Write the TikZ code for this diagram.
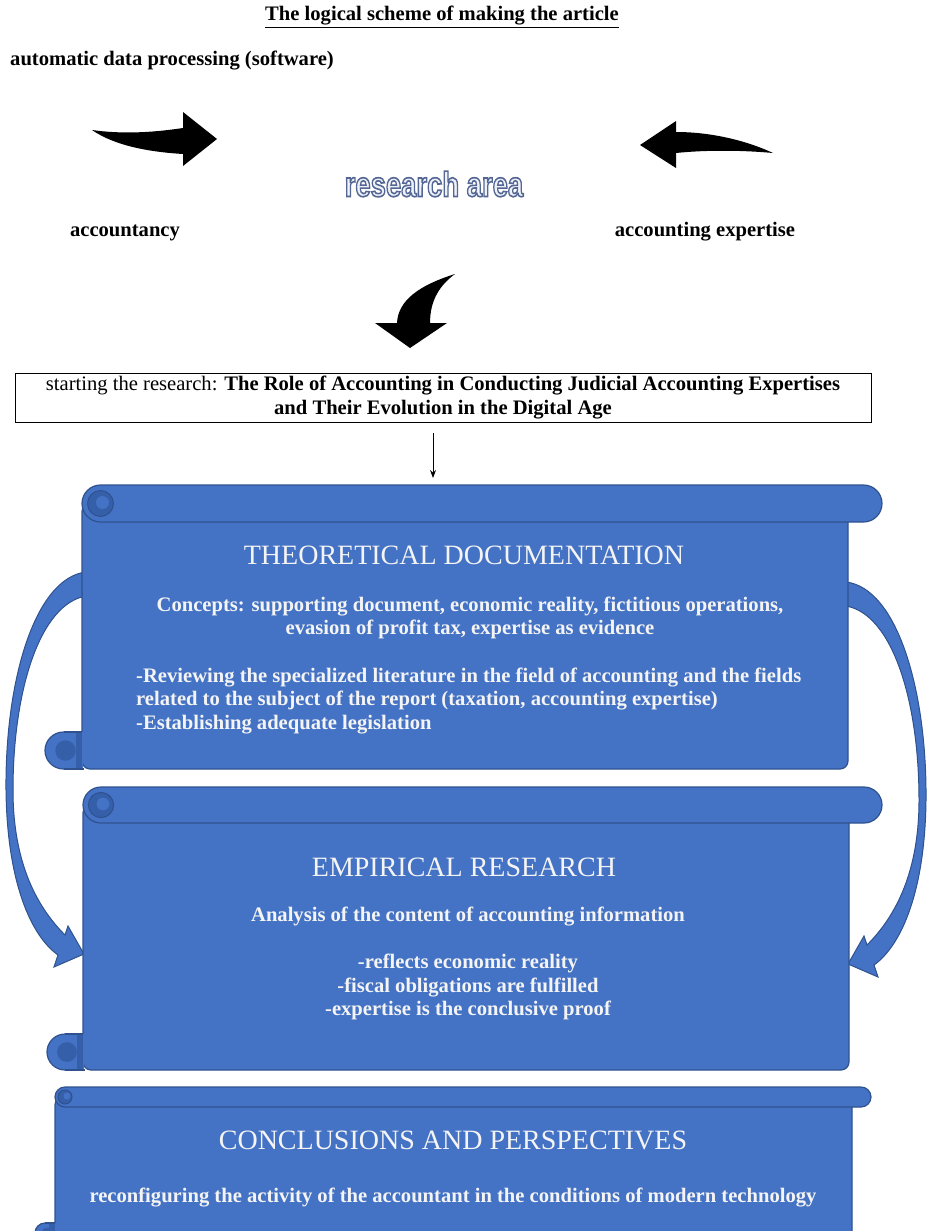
\documentclass[tikz,border=0pt]{standalone}
\usepackage{fontspec}
\setmainfont{Liberation Serif}
\newfontfamily\rafont{Liberation Sans}
\usetikzlibrary{arrows.meta}
\definecolor{sfill}{HTML}{4472C4}
\definecolor{sline}{HTML}{2F528F}
\definecolor{scurl}{HTML}{365FAA}
\definecolor{stext}{HTML}{F4F4F4}
\definecolor{raline}{HTML}{4A5A82}
\definecolor{rafill}{HTML}{EEF1F8}
\newcommand\outlinetxt[1]{\special{pdf:literal direct 2 Tr 1.3 w 0.33 0.40 0.58 RG}#1\special{pdf:literal direct 0 Tr}}
% #1 L, #2 R, #3 T, #4 roll height, #5 B, #6 roll right end, #7 half roll height (pt)
\newcommand\drawscroll[7]{%
  \filldraw[sbody, rounded corners=8pt] (#1,#3+#4/2) -- (#1,#5) -- (#2,#5) -- (#2,#3+#4/2) -- cycle;
  \filldraw[sbody] (#1-#4/2,#5-#4/2) circle[radius=#7];
  \fill[sfill] (#1-#4/2,#5-#4) rectangle (#1+1,#5-0.5);
  \fill[scurl] (#1-6,#5-#4) rectangle (#1,#5);
  \draw[sline, line width=1.2pt] (#1-#4/2,#5-#4) -- (#1,#5-#4) (#1-#4/2,#5) -- (#1+2,#5);
  \fill[scurl] (#1-#4/2+2,#5-#4/2) circle[radius=#7*0.55];
  \filldraw[sbody, rounded corners=#7] (#1,#3) rectangle (#6,#3+#4);
  \filldraw[fill=scurl, draw=sline, line width=1pt] (#1+#4/2,#3+#4/2) circle[radius=#7*0.7];
  \fill[sfill] (#1+#4/2+2,#3+#4/2-1) circle[radius=#7*0.35];
}
\tikzset{
  sbody/.style={fill=sfill, draw=sline, line width=1.2pt},
  sidearrow/.style={fill=sfill, draw=sline, line width=1pt},
  blk/.style={fill=black},
  plain/.style={inner sep=0pt, text=black},
  hdr/.style={plain, font=\bfseries\fontsize{20.6}{23}\selectfont},
  stitle/.style={inner sep=0pt, text=stext, font=\fontsize{28}{31}\selectfont},
  sbodytxt/.style={inner sep=0pt, text=stext, font=\bfseries\fontsize{20.6}{23.5}\selectfont},
}
\begin{document}
\begin{tikzpicture}[x=1pt, y=-1pt]
\useasboundingbox (0,0) rectangle (927,1231);
\begin{scope}
\clip (0,0) rectangle (927,1231);

% header texts
\node[hdr] (title) at (442,17) {\underline{The logical scheme of making the article}};
\node[hdr, anchor=west] (adp) at (10,61) {automatic data processing (software)};
\node[hdr] (acc) at (125,233) {accountancy};
\node[hdr] (exp) at (705,232) {accounting expertise};
\node[plain, text=rafill, font=\rafont\bfseries\fontsize{28}{30}\selectfont] (ra) at (434,184) {\scalebox{0.98}[1.25]{\outlinetxt{research area}}};

% black block arrows
\fill[blk] (92,130) .. controls (120,134) and (150,133) .. (183,128) -- (183,112) -- (217,139) -- (183,166) -- (183,154) .. controls (150,152) and (115,146) .. (92,130) -- cycle;
\fill[blk] (773,153) .. controls (745,140) and (710,132) .. (676,132) -- (676,121) -- (640,145) -- (676,168) -- (676,153) .. controls (705,150) and (740,150) .. (773,153) -- cycle;
\fill[blk] (455,274) .. controls (420,285) and (398,300) .. (397,323) -- (375,323) -- (410,348) -- (447,323) -- (430,323) .. controls (430,300) and (440,285) .. (455,274) -- cycle;

% start box
\node[draw=black, line width=1pt, minimum width=856pt, minimum height=49pt, inner sep=0pt, align=center, font=\fontsize{20.6}{23.5}\selectfont] (start) at (443,397.5)
  {starting the research: \textbf{The Role of Accounting in Conducting Judicial Accounting Expertises}\\ \textbf{and Their Evolution in the Digital Age}};
\coordinate (a1) at (433,433);
\coordinate (a2) at (433,478);
\draw[line width=0.9pt, -{Stealth[length=8pt,width=6pt]}] (a1) -- (a2);

% blue side arrows (left, then mirrored right)
\path[sidearrow] (86,572) .. controls (35,578) and (5,680) .. (6,790) .. controls (7,880) and (30,935) .. (58,955) -- (54,967) -- (84,954) -- (68,926) -- (65,935) .. controls (35,905) and (13,860) .. (13,790) .. controls (13,690) and (40,604) .. (86,596) -- cycle;
\begin{scope}[shift={(932,10)}, xscale=-1]
\path[sidearrow] (86,572) .. controls (35,578) and (5,680) .. (6,790) .. controls (7,880) and (30,935) .. (58,955) -- (54,967) -- (84,954) -- (68,926) -- (65,935) .. controls (35,905) and (13,860) .. (13,790) .. controls (13,690) and (40,604) .. (86,596) -- cycle;
\end{scope}

% scrolls
\drawscroll{82}{848}{485}{37}{769}{882}{18.5pt}
\drawscroll{83}{849}{787}{36}{1070}{882}{18pt}
\drawscroll{55}{852}{1087}{20}{1243}{871}{10pt}

% scroll 1 texts
\node[stitle] (t1) at (464,555) {THEORETICAL DOCUMENTATION};
\node[sbodytxt, align=center] (c1) at (470,618) {Concepts: supporting document, economic reality, fictitious operations,\\ evasion of profit tax, expertise as evidence};
\node[sbodytxt, align=left, anchor=west] (r1) at (136,701) {-Reviewing the specialized literature in the field of accounting and the fields\\ related to the subject of the report (taxation, accounting expertise)\\ -Establishing adequate legislation};

% scroll 2 texts
\node[stitle] (t2) at (464,867) {EMPIRICAL RESEARCH};
\node[sbodytxt] (c2) at (468,917) {Analysis of the content of accounting information};
\node[sbodytxt, align=center] (r2) at (468,987) {-reflects economic reality\\ -fiscal obligations are fulfilled\\ -expertise is the conclusive proof};

% scroll 3 texts
\node[stitle] (t3) at (453,1140) {CONCLUSIONS AND PERSPECTIVES};
\node[sbodytxt] (c3) at (453,1198) {reconfiguring the activity of the accountant in the conditions of modern technology};
\end{scope}
\end{tikzpicture}
\end{document}
